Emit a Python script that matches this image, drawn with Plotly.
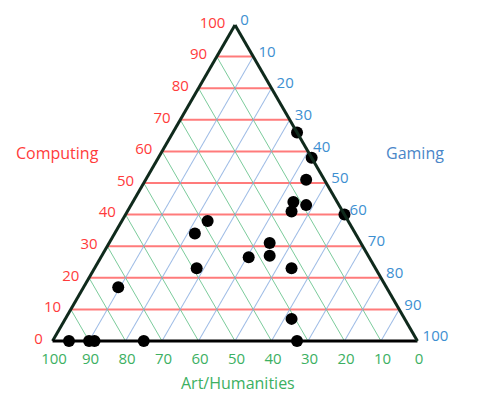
import plotly.graph_objects as go

# Ternary data (percent): Computing (top), Art/Humanities (bottom-left), Gaming (bottom-right)
computing = [66, 58, 51, 44, 43, 41, 40, 38, 34, 31, 27, 26.5, 23, 23, 17, 0, 0, 0, 0, 7, 0]
art = [0, 0, 5, 12, 9, 14, 0, 38.5, 44, 25, 27, 33, 49, 23, 73.5, 95.5, 90, 88.5, 75, 31, 33]
gaming = [34, 42, 44, 44, 48, 45, 60, 23.5, 22, 44, 46, 40.5, 28, 54, 9.5, 4.5, 10, 11.5, 25, 62, 67]

tick_values = [0, 10, 20, 30, 40, 50, 60, 70, 80, 90, 100]
tick_text = [str(v) for v in tick_values]

RED = "#ff3b3b"
GREEN = "#3cb062"
BLUE = "#3d8fd1"
FONT = "Open Sans"

# page has an 8px body margin; figure sized to reach the window's right/bottom edges
OFF = 8
W, H = 487 - OFF, 394 - OFF


def fx(px):
    return (px - OFF) / W


def fy(py):
    return 1 - (py - OFF) / H


fig = go.Figure()
fig.add_trace(go.Scatterternary(
    a=computing, b=art, c=gaming,
    mode="markers",
    marker=dict(color="black", size=12),
    cliponaxis=False,
    showlegend=False,
))


def axis(color, gridcolor, linecolor, gridwidth, ticklen):
    return dict(
        title=dict(text=""),
        min=0,
        tickmode="array",
        tickvals=tick_values,
        ticktext=tick_text,
        tickfont=dict(color=color, size=15, family=FONT),
        ticks="outside",
        ticklen=ticklen,
        tickcolor="rgba(0,0,0,0)",
        showgrid=True,
        gridcolor=gridcolor,
        gridwidth=gridwidth,
        showline=True,
        linecolor=linecolor,
        linewidth=3,
    )


apex_y, base_y, cx = 25, 341, 235
half_w = (base_y - apex_y) / (3 ** 0.5)

fig.update_layout(
    width=W, height=H,
    margin=dict(l=0, r=0, t=0, b=0),
    paper_bgcolor="white",
    ternary=dict(
        sum=100,
        bgcolor="white",
        domain=dict(x=[fx(cx - half_w), fx(cx + half_w)], y=[fy(base_y), fy(apex_y)]),
        aaxis=axis(RED, "rgba(255,90,90,0.8)", "#0f2a1c", 2, 6),
        baxis=axis(GREEN, "rgba(90,190,130,0.8)", "#000000", 1, 3),
        caxis=axis(BLUE, "rgba(140,175,225,0.85)", "#0f2a1c", 1, 3),
    ),
    annotations=[
        dict(text="Computing", x=fx(57), y=fy(153), xref="paper", yref="paper",
             xanchor="center", yanchor="middle",
             showarrow=False, font=dict(color=RED, size=16, family=FONT)),
        dict(text="Gaming", x=fx(415), y=fy(153), xref="paper", yref="paper",
             xanchor="center", yanchor="middle",
             showarrow=False, font=dict(color="#4a86c8", size=16, family=FONT)),
        dict(text="Art/Humanities", x=fx(238), y=fy(383), xref="paper", yref="paper",
             xanchor="center", yanchor="middle",
             showarrow=False, font=dict(color=GREEN, size=16, family=FONT)),
    ],
)

fig.write_html("out.html")
